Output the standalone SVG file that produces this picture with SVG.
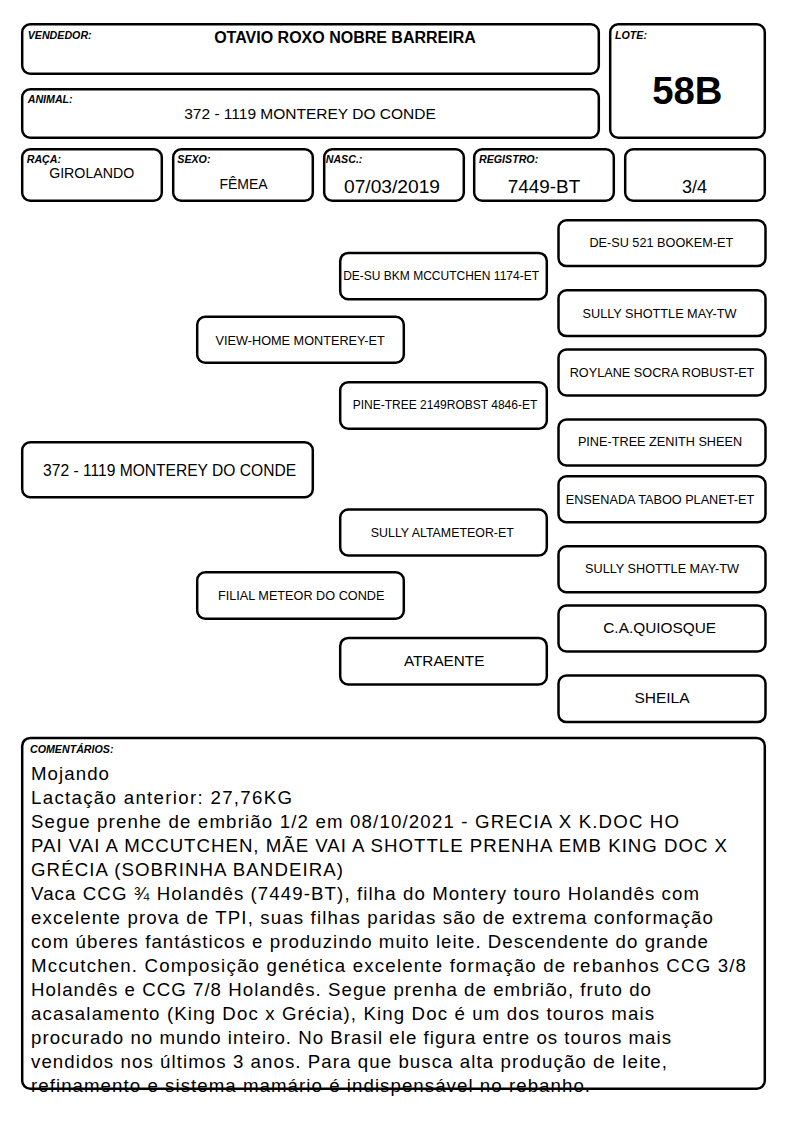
<svg xmlns="http://www.w3.org/2000/svg" width="794" height="1123" viewBox="0 0 794 1123">
<style>
.box{fill:#fff;stroke:#000;stroke-width:2.5}
.lbl{font-family:"Liberation Sans",Arial,sans-serif;font-weight:bold;font-style:italic;font-size:10.67px;fill:#000}
.t{font-family:"Liberation Sans",Arial,sans-serif;fill:#000;text-anchor:middle}
.s{font-size:12.7px}
.c{font-family:"Liberation Sans",Arial,sans-serif;font-size:18.67px;fill:#000}
</style>
<rect width="794" height="1123" fill="#fff"/>
<g id="vendedor">
<rect class="box" x="22.2" y="24.2" width="576.6" height="49.6" rx="8"/>
<text class="lbl" x="27.7" y="39">VENDEDOR:</text>
<text class="t" x="345" y="42.7" font-size="16" font-weight="bold">OTAVIO ROXO NOBRE BARREIRA</text>
</g>
<g id="lote">
<rect class="box" x="610.2" y="24.2" width="154.6" height="113.6" rx="8"/>
<text class="lbl" x="615" y="39">LOTE:</text>
<text class="t" x="687.3" y="104.3" font-size="38.3" font-weight="bold">58B</text>
</g>
<g id="animal">
<rect class="box" x="22.2" y="89.2" width="576.6" height="48.6" rx="8"/>
<text class="lbl" x="27.7" y="102.7">ANIMAL:</text>
<text class="t" x="310" y="119" font-size="15.5">372 - 1119 MONTEREY DO CONDE</text>
</g>
<g id="raca">
<rect class="box" x="22.2" y="149.2" width="139.6" height="51.6" rx="8"/>
<text class="lbl" x="26.7" y="162.7">RAÇA:</text>
<text class="t" x="91.7" y="177.7" font-size="14.2">GIROLANDO</text>
</g>
<g id="sexo">
<rect class="box" x="173.2" y="149.2" width="139.6" height="51.6" rx="8"/>
<text class="lbl" x="177.3" y="162.7">SEXO:</text>
<text class="t" x="243.5" y="189" font-size="14">FÊMEA</text>
</g>
<g id="nasc">
<rect class="box" x="324.2" y="149.2" width="139.6" height="51.6" rx="8"/>
<text class="lbl" x="325.7" y="162.7">NASC.:</text>
<text class="t" x="392" y="192.7" font-size="19.2">07/03/2019</text>
</g>
<g id="registro">
<rect class="box" x="474.2" y="149.2" width="139.6" height="51.6" rx="8"/>
<text class="lbl" x="479" y="162.7">REGISTRO:</text>
<text class="t" x="544" y="192.7" font-size="18.9">7449-BT</text>
</g>
<g id="fracao">
<rect class="box" x="625.2" y="149.2" width="139.6" height="51.6" rx="8"/>
<text class="t" x="694.5" y="192.7" font-size="18">3/4</text>
</g>
<g id="animal-main">
<rect class="box" x="22.2" y="442.2" width="290.6" height="55.1" rx="8"/>
<text class="t" x="169.6" y="475.7" font-size="15.6">372 - 1119 MONTEREY DO CONDE</text>
</g>
<g id="pai">
<rect class="box" x="197.2" y="316.7" width="206.6" height="46.1" rx="8"/>
<text class="t s" x="300.2" y="345">VIEW-HOME MONTEREY-ET</text>
</g>
<g id="mae">
<rect class="box" x="197.2" y="572.2" width="206.6" height="46.6" rx="8"/>
<text class="t s" x="301.2" y="600">FILIAL METEOR DO CONDE</text>
</g>
<g id="avo-pp">
<rect class="box" x="340.2" y="252.9" width="206.6" height="46.4" rx="8"/>
<text class="t" x="441.1" y="280" font-size="12">DE-SU BKM MCCUTCHEN 1174-ET</text>
</g>
<g id="avo-pm">
<rect class="box" x="340.2" y="382.2" width="206.6" height="46.6" rx="8"/>
<text class="t" x="445" y="409" font-size="12">PINE-TREE 2149ROBST 4846-ET</text>
</g>
<g id="avo-mp">
<rect class="box" x="340.2" y="509.5" width="206.6" height="46" rx="8"/>
<text class="t" x="442.3" y="536.7" font-size="12.4">SULLY ALTAMETEOR-ET</text>
</g>
<g id="avo-mm">
<rect class="box" x="340.2" y="637.9" width="206.6" height="46.6" rx="8"/>
<text class="t" x="444.2" y="666" font-size="15.3">ATRAENTE</text>
</g>
<g id="bis-1">
<rect class="box" x="558.5" y="220.2" width="207" height="45.9" rx="8"/>
<text class="t s" x="661.3" y="246.7">DE-SU 521 BOOKEM-ET</text>
</g>
<g id="bis-2">
<rect class="box" x="558.5" y="290.2" width="207" height="45.9" rx="8"/>
<text class="t s" x="659.5" y="318.3">SULLY SHOTTLE MAY-TW</text>
</g>
<g id="bis-3">
<rect class="box" x="558.5" y="349.5" width="207" height="46" rx="8"/>
<text class="t s" x="662" y="376.7">ROYLANE SOCRA ROBUST-ET</text>
</g>
<g id="bis-4">
<rect class="box" x="558.5" y="419.5" width="207" height="46" rx="8"/>
<text class="t s" x="660" y="446">PINE-TREE ZENITH SHEEN</text>
</g>
<g id="bis-5">
<rect class="box" x="558.5" y="476.2" width="207" height="46" rx="8"/>
<text class="t s" x="660" y="504">ENSENADA TABOO PLANET-ET</text>
</g>
<g id="bis-6">
<rect class="box" x="558.5" y="546.2" width="207" height="46" rx="8"/>
<text class="t s" x="662" y="573.3">SULLY SHOTTLE MAY-TW</text>
</g>
<g id="bis-7">
<rect class="box" x="558.5" y="605.5" width="207" height="46" rx="8"/>
<text class="t" x="659.7" y="632.7" font-size="15.4">C.A.QUIOSQUE</text>
</g>
<g id="bis-8">
<rect class="box" x="558.5" y="675.5" width="207" height="46.6" rx="8"/>
<text class="t" x="662" y="703.3" font-size="15.5">SHEILA</text>
</g>
<g id="connectors"></g>
<g id="comentarios">
<rect class="box" x="22.2" y="737.9" width="742.6" height="350.9" rx="8"/>
<text class="lbl" x="30" y="752.7">COMENTÁRIOS:</text>
<text class="c" x="31" y="779.5" textLength="78" lengthAdjust="spacing">Mojando</text>
<text class="c" x="31" y="803.6" textLength="261" lengthAdjust="spacing">Lactação anterior: 27,76KG</text>
<text class="c" x="31" y="827.6" textLength="648" lengthAdjust="spacing">Segue prenhe de embrião 1/2 em 08/10/2021 - GRECIA X K.DOC HO</text>
<text class="c" x="31" y="851.7" textLength="696" lengthAdjust="spacing">PAI VAI A MCCUTCHEN, MÃE VAI A SHOTTLE PRENHA EMB KING DOC X</text>
<text class="c" x="31" y="875.7" textLength="312" lengthAdjust="spacing">GRÉCIA (SOBRINHA BANDEIRA)</text>
<text class="c" x="31" y="899.8" textLength="668" lengthAdjust="spacing">Vaca CCG ¾ Holandês (7449-BT), filha do Montery touro Holandês com</text>
<text class="c" x="31" y="923.8" textLength="682" lengthAdjust="spacing">excelente prova de TPI, suas filhas paridas são de extrema conformação</text>
<text class="c" x="31" y="947.9" textLength="677" lengthAdjust="spacing">com úberes fantásticos e produzindo muito leite. Descendente do grande</text>
<text class="c" x="31" y="971.9" textLength="715" lengthAdjust="spacing">Mccutchen. Composição genética excelente formação de rebanhos CCG 3/8</text>
<text class="c" x="31" y="996" textLength="620" lengthAdjust="spacing">Holandês e CCG 7/8 Holandês. Segue prenha de embrião, fruto do</text>
<text class="c" x="31" y="1020" textLength="623" lengthAdjust="spacing">acasalamento (King Doc x Grécia), King Doc é um dos touros mais</text>
<text class="c" x="31" y="1044.1" textLength="640" lengthAdjust="spacing">procurado no mundo inteiro. No Brasil ele figura entre os touros mais</text>
<text class="c" x="31" y="1068.1" textLength="636" lengthAdjust="spacing">vendidos nos últimos 3 anos. Para que busca alta produção de leite,</text>
<text class="c" x="31" y="1092.2" textLength="559" lengthAdjust="spacing">refinamento e sistema mamário é indispensável no rebanho.</text>
</g>
</svg>
